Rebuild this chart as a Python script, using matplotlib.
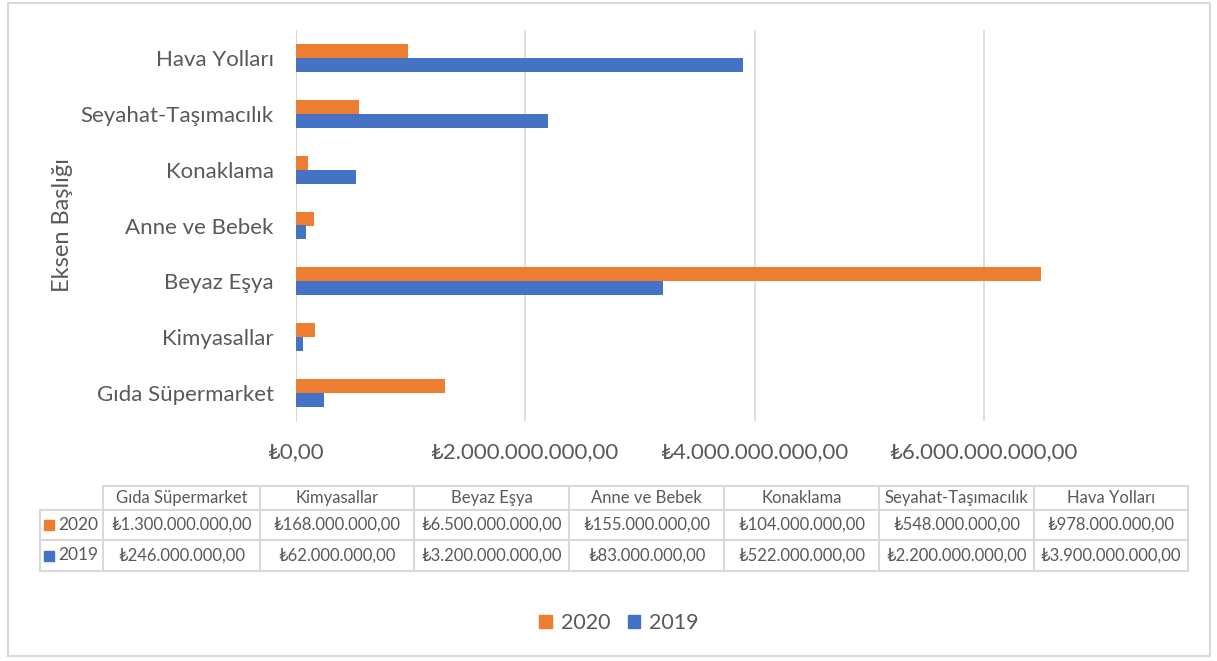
import numpy as np
import matplotlib
matplotlib.use("Agg")
from matplotlib import pyplot as plt
from matplotlib.patches import Patch, Rectangle

# Veriler
kategoriler = ["Gıda Süpermarket", "Kimyasallar", "Beyaz Eşya", "Anne ve Bebek",
               "Konaklama", "Seyahat-Taşımacılık", "Hava Yolları"]
seri_2020 = [1300000000, 168000000, 6500000000, 155000000, 104000000, 548000000, 978000000]
seri_2019 = [246000000, 62000000, 3200000000, 83000000, 522000000, 2200000000, 3900000000]
x_ticks = [0, 2000000000, 4000000000, 6000000000]
eksen_basligi = "Eksen Başlığı"

TURUNCU = "#ED7D31"
MAVI = "#4472C4"
GRI_YAZI = "#595959"
GRI_CIZGI = "#D9D9D9"

plt.rcParams['font.family'] = ['Lato', 'DejaVu Sans']


def lira(v):
    s = "{:,.2f}".format(v)
    s = s.replace(",", "X").replace(".", ",").replace("X", ".")
    return "₺" + s


W, H = 1217, 661
fig = plt.figure(figsize=(W / 100, H / 100), dpi=100)

# Grafik alani
x0, x1, y0, y1 = 296, 1156, 30, 421
ax = fig.add_axes([x0 / W, 1 - y1 / H, (x1 - x0) / W, (y1 - y0) / H])
y = np.arange(len(kategoriler))
h = 0.25
ax.barh(y + h / 2, seri_2020, height=h, color=TURUNCU, zorder=3)
ax.barh(y - h / 2, seri_2019, height=h, color=MAVI, zorder=3)
ax.set_ylim(-0.5, len(kategoriler) - 0.5)
ax.set_xlim(0, 7.5e9)
ax.set_yticks(y)
ax.set_yticklabels(kategoriler, fontsize=16, color=GRI_YAZI)
ax.set_xticks(x_ticks)
ax.set_xticklabels([lira(v) for v in x_ticks], fontsize=16, color=GRI_YAZI)
ax.tick_params(axis='both', length=0)
ax.tick_params(axis='y', pad=16)
ax.tick_params(axis='x', pad=15)
for s in ["top", "right", "bottom"]:
    ax.spines[s].set_visible(False)
ax.spines["left"].set_color(GRI_CIZGI)
ax.grid(axis='x', color=GRI_CIZGI, linewidth=1.2, zorder=0)
ax.set_axisbelow(True)
ax.set_ylabel(eksen_basligi, fontsize=17, color=GRI_YAZI)
ax.yaxis.set_label_coords((73 - x0) / (x1 - x0), 0.5)

# Veri tablosu (piksel koordinatlarinda)
ov = fig.add_axes([0, 0, 1, 1], zorder=-1)
ov.set_xlim(0, W)
ov.set_ylim(H, 0)
ov.axis("off")

sutunlar = [103, 260, 414, 569, 724, 879, 1034, 1188]
satirlar = [486, 510, 540, 571]
sol = 40
# yatay cizgiler
ov.plot([sutunlar[0], sutunlar[-1]], [satirlar[0]] * 2, color=GRI_CIZGI, lw=1.5)
for yy in satirlar[1:]:
    ov.plot([sol, sutunlar[-1]], [yy] * 2, color=GRI_CIZGI, lw=1.5)
# dikey cizgiler
ov.plot([sol, sol], [satirlar[1], satirlar[-1]], color=GRI_CIZGI, lw=1.5)
for xx in sutunlar:
    ov.plot([xx, xx], [satirlar[0], satirlar[-1]], color=GRI_CIZGI, lw=1.5)

for i, k in enumerate(kategoriler):
    cx = (sutunlar[i] + sutunlar[i + 1]) / 2
    ov.text(cx, (satirlar[0] + satirlar[1]) / 2, k, ha="center", va="center",
            fontsize=12, color=GRI_YAZI)
    ov.text(cx, (satirlar[1] + satirlar[2]) / 2, lira(seri_2020[i]), ha="center",
            va="center", fontsize=12, color=GRI_YAZI)
    ov.text(cx, (satirlar[2] + satirlar[3]) / 2, lira(seri_2019[i]), ha="center",
            va="center", fontsize=12, color=GRI_YAZI)

for j, (ad, renk) in enumerate([("2020", TURUNCU), ("2019", MAVI)]):
    cy = (satirlar[j + 1] + satirlar[j + 2]) / 2
    ov.add_patch(Rectangle((44, cy - 5), 10, 10, color=renk))
    ov.text(58, cy, ad, ha="left", va="center", fontsize=12.5, color=GRI_YAZI)

# cerceve
ov.add_patch(Rectangle((8, 3), 1202, 653, fill=False, edgecolor=GRI_CIZGI, lw=1.5))

# Lejant
fig.legend(handles=[Patch(color=TURUNCU, label="2020"), Patch(color=MAVI, label="2019")],
           loc="center", bbox_to_anchor=(619 / W, 1 - 623 / H), ncol=2, frameon=False,
           fontsize=15.5, handlelength=0.6, handleheight=0.6, handletextpad=0.4,
           columnspacing=0.8, labelcolor=GRI_YAZI)

fig.savefig("out.png", dpi=100)
